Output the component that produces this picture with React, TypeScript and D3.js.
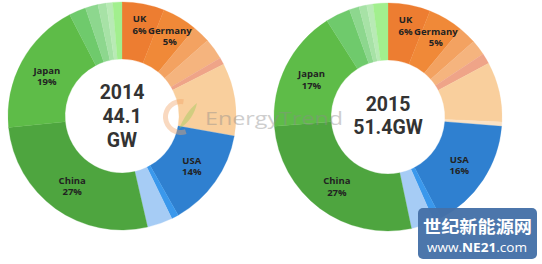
import React from "react";
import * as d3 from "d3";

const sliceNames = [
  "UK", "Germany", "Europe-2", "Europe-3", "Europe-4", "Europe-5", "Europe-6",
  "USA", "Americas-2", "Americas-3",
  "China", "Japan", "Asia-2", "Asia-3", "Asia-4", "Asia-5", "Asia-6",
];
const values2014 = [6, 5, 2.5, 3, 1, 10.3, 0, 14, 1, 3.6, 27, 19, 2.4, 1.8, 1.2, 0.9, 1.3];
const values2015 = [6, 5, 2.5, 2.2, 1.5, 8.5, 0.6, 16, 1.1, 3.3, 27, 17.3, 3.5, 1.4, 1.1, 0.9, 2.1];
const sliceColors = [
  "#ED7D31", "#F08938", "#F3A261", "#F5B47E", "#EFA488", "#F9CF9D", "#FBE2C4",
  "#2F80D0", "#3A98EC", "#A6CCF5",
  "#4EA53F", "#5EBC48", "#6FCA6C", "#8DD78E", "#A7E2A6", "#B8EAB5", "#A2EF8E",
];
const labelNames = ["UK", "Germany", "USA", "China", "Japan"];
const labels2014 = ["6%", "5%", "14%", "27%", "19%"];
const labels2015 = ["6%", "5%", "16%", "27%", "17%"];
const outerLabelNames = ["UK", "Germany"];

const charts = [
  { year: "2014", centerLines: ["2014", "44.1", "GW"], values: values2014, labels: labels2014, cx: 122, cy: 116 },
  { year: "2015", centerLines: ["2015", "51.4GW"], values: values2015, labels: labels2015, cx: 388, cy: 117 },
];

const R_OUT = 114;
const R_IN = 57;
const FONT = "'Open Sans', 'DejaVu Sans', sans-serif";
const CENTER_FONT = "Roboto, 'Open Sans', sans-serif";

function Donut({ chart }: { chart: typeof charts[number] }) {
  const pie = d3
    .pie<number>()
    .sort(null)
    .value((d) => d)
    .startAngle(0)
    .endAngle(2 * Math.PI);
  const arcs = pie(chart.values);
  const arc = d3.arc<d3.PieArcDatum<number>>().innerRadius(R_IN).outerRadius(R_OUT);
  const outerLabelArc = d3.arc<d3.PieArcDatum<number>>().innerRadius(94).outerRadius(94);
  const lineH = 23.6;
  const n = chart.centerLines.length;
  return (
    <g transform={`translate(${chart.cx},${chart.cy})`}>
      {arcs.map((a, i) => (
        <path key={i} d={arc(a) || ""} fill={sliceColors[i]} stroke={sliceColors[i]} strokeWidth={0.3} />
      ))}
      {arcs.map((a, i) => {
        const name = sliceNames[i];
        const li = labelNames.indexOf(name);
        if (li < 0) return null;
        const [x, y] = outerLabelNames.includes(name) ? outerLabelArc.centroid(a) : arc.centroid(a);
        return (
          <text key={"l" + i} x={x} y={y} textAnchor="middle" fontFamily={FONT} fontWeight="bold" fontSize={9.5} fill="#222">
            <tspan x={x} dy={-1.5}>{name}</tspan>
            <tspan x={x} dy={11.5}>{chart.labels[li]}</tspan>
          </text>
        );
      })}
      {chart.centerLines.map((t, i) => (
        <text
          key={"c" + i}
          x={0}
          y={(i - (n - 1) / 2) * lineH - (n === 3 ? 0 : 1.5) + 7}
          textAnchor="middle"
          fontFamily={CENTER_FONT}
          fontWeight="bold"
          fontSize={19.5}
          fill="#333"
        >
          {t}
        </text>
      ))}
    </g>
  );
}

export default function App() {
  const logoArc = d3.arc()({ innerRadius: 13, outerRadius: 18, startAngle: Math.PI * 0.9, endAngle: Math.PI * 2.05 } as any) || "";
  return (
    <svg width={542} height={264} style={{ position: "absolute", left: 0, top: 0, background: "#fff" }}>
      <rect width={542} height={264} fill="#fff" />
      {charts.map((c) => (
        <Donut key={c.year} chart={c} />
      ))}
      {/* EnergyTrend watermark */}
      <g opacity={0.42}>
        <g transform="translate(181,117)">
          <path d={logoArc} fill="#F2A66A" />
          <path d="M-2,12 C2,2 8,-8 16,-14 C14,-4 8,6 -2,12 Z" fill="#9CCB5A" />
        </g>
        <text x={205} y={125} fontFamily={FONT} fontSize={18} textLength={138} lengthAdjust="spacingAndGlyphs" fill="#8c8c8c">EnergyTrend</text>
      </g>
      {/* NE21 watermark */}
      <rect x={418} y={208} width={119} height={51} rx={5} fill="#4570A8" opacity={0.96} />
      <text x={423} y={233} fontFamily="'Noto Sans CJK SC', sans-serif" fontWeight="bold" fontSize={17} textLength={109} lengthAdjust="spacingAndGlyphs" fill="#fff">
        世纪新能源网
      </text>
      <text x={427} y={251.5} fontFamily={FONT} fontSize={12.5} textLength={100} lengthAdjust="spacingAndGlyphs" fill="#fff">
        www.<tspan fontWeight="bold">NE21</tspan>.com
      </text>
    </svg>
  );
}
